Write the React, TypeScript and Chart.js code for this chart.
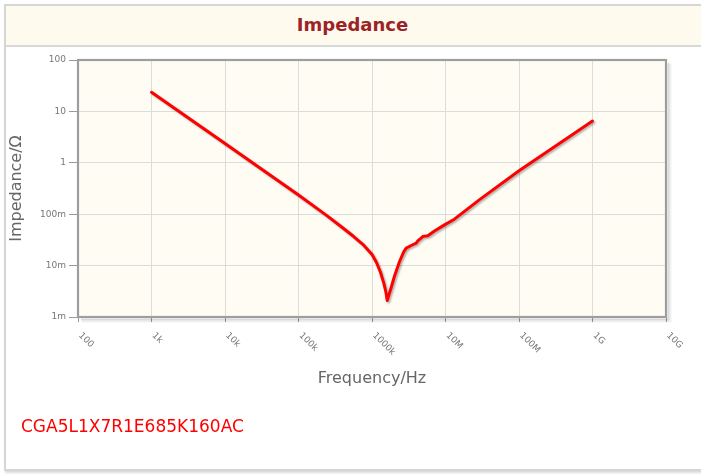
import React, { useEffect, useRef } from 'react';
import { Chart, registerables } from 'chart.js';

Chart.register(...registerables);

// ---- data ----
const freqHz = [
  1e3, 1e4, 1e5, 2.38e5, 3.6e5, 5.48e5, 7.5e5, 1.0e6, 1.15e6, 1.3e6, 1.45e6, 1.55e6,
  1.61e6, 1.7e6, 1.82e6, 2.02e6, 2.37e6, 2.7e6, 2.92e6, 3.41e6, 3.99e6, 4.2e6,
  4.91e6, 5.74e6, 7.08e6, 9.68e6, 1.32e7, 2.88e7, 1e8, 1e9,
];
const impedanceOhm = [
  23.5, 2.37, 0.237, 0.096, 0.061, 0.038, 0.026, 0.0165, 0.0115, 0.0075, 0.0045, 0.003,
  0.0021, 0.0027, 0.0037, 0.0062, 0.012, 0.0185, 0.0219, 0.0246, 0.0273, 0.0303,
  0.0368, 0.038, 0.047, 0.062, 0.08, 0.19, 0.7, 6.5,
];
const xTickValues = [1e2, 1e3, 1e4, 1e5, 1e6, 1e7, 1e8, 1e9, 1e10];
const xTickLabels = ['100', '1k', '10k', '100k', '1000k', '10M', '100M', '1G', '10G'];
const yTickValues = [1e-3, 1e-2, 1e-1, 1, 10, 100];
const yTickLabels = ['1m', '10m', '100m', '1', '10', '100'];

const chartTitle = 'Impedance';
const partNumber = 'CGA5L1X7R1E685K160AC';
const xTitle = 'Frequency/Hz';
const yTitle = 'Impedance/Ω';

const FONT = "'DejaVu Sans', sans-serif";

const decorPlugin = {
  id: 'decor',
  beforeDraw(chart: any) {
    const { ctx, chartArea: a } = chart;
    ctx.save();
    ctx.fillStyle = '#fffcf3';
    ctx.fillRect(a.left, a.top, a.right - a.left, a.bottom - a.top);
    ctx.restore();
  },
  beforeDatasetsDraw(chart: any) {
    const ctx = chart.ctx;
    ctx.save();
    ctx.shadowColor = 'rgba(0,0,0,0.3)';
    ctx.shadowOffsetX = 1.5;
    ctx.shadowOffsetY = 1.5;
    ctx.shadowBlur = 2;
  },
  afterDatasetsDraw(chart: any) {
    chart.ctx.restore();
  },
  afterDraw(chart: any) {
    const { ctx, chartArea: a } = chart;
    const w = a.right - a.left;
    const h = a.bottom - a.top;
    // outer soft shadow on right and bottom
    ctx.save();
    ctx.lineWidth = 2;
    ctx.strokeStyle = 'rgba(0,0,0,0.14)';
    ctx.beginPath();
    ctx.moveTo(a.right + 2.5, a.top + 3);
    ctx.lineTo(a.right + 2.5, a.bottom + 2.5);
    ctx.lineTo(a.left + 3, a.bottom + 2.5);
    ctx.stroke();
    ctx.strokeStyle = 'rgba(0,0,0,0.06)';
    ctx.beginPath();
    ctx.moveTo(a.right + 4.5, a.top + 4);
    ctx.lineTo(a.right + 4.5, a.bottom + 4.5);
    ctx.lineTo(a.left + 4, a.bottom + 4.5);
    ctx.stroke();
    // plot border
    ctx.strokeStyle = '#9e9e9e';
    ctx.lineWidth = 2.2;
    ctx.strokeRect(a.left, a.top, w, h);
    ctx.restore();
    // rotated x tick labels
    const xs = chart.scales.x;
    ctx.save();
    ctx.fillStyle = '#777';
    ctx.font = `9px ${FONT}`;
    ctx.textAlign = 'left';
    ctx.textBaseline = 'middle';
    xTickValues.forEach((v, i) => {
      const px = xs.getPixelForValue(v);
      ctx.save();
      ctx.translate(px + 2, a.bottom + 17);
      ctx.rotate(Math.PI / 4);
      ctx.fillText(xTickLabels[i], 0, 0);
      ctx.restore();
    });
    ctx.restore();
  },
};

function ImpedanceChart() {
  const ref = useRef<HTMLCanvasElement | null>(null);
  useEffect(() => {
    if (!ref.current) return;
    const chart = new Chart(ref.current, {
      type: 'line',
      data: {
        datasets: [
          {
            data: freqHz.map((f, i) => ({ x: f, y: impedanceOhm[i] })),
            borderColor: '#ff0000',
            borderWidth: 3,
            pointRadius: 0,
            tension: 0,
            borderJoinStyle: 'round',
            borderCapStyle: 'round',
            fill: false,
          },
        ],
      },
      options: {
        animation: false,
        responsive: false,
        devicePixelRatio: 1,
        layout: { padding: { left: 0, right: 35, top: 60, bottom: 84 } },
        plugins: { legend: { display: false }, tooltip: { enabled: false } },
        scales: {
          x: {
            type: 'logarithmic',
            min: 1e2,
            max: 1e10,
            afterBuildTicks: (s: any) => {
              s.ticks = xTickValues.map((v) => ({ value: v }));
            },
            afterFit: (s: any) => {
              s.height = 75;
            },
            ticks: { display: false },
            grid: { color: '#dcdcdc', tickColor: '#999', tickLength: 5, lineWidth: 1 },
            border: { display: false },
            title: {
              display: true,
              text: xTitle,
              color: '#666',
              font: { family: FONT, size: 16 },
              padding: { top: 4, bottom: 4 },
            },
          },
          y: {
            type: 'logarithmic',
            min: 1e-3,
            max: 1e2,
            afterBuildTicks: (s: any) => {
              s.ticks = yTickValues.map((v) => ({ value: v }));
            },
            afterFit: (s: any) => {
              s.width = 78;
            },
            ticks: {
              color: '#777',
              font: { family: FONT, size: 9 },
              padding: 3,
              callback: (_v: any, i: number) => yTickLabels[i],
            },
            grid: { color: '#dcdcdc', tickColor: '#999', tickLength: 9, lineWidth: 1 },
            border: { display: false },
            title: {
              display: true,
              text: yTitle,
              color: '#666',
              font: { family: FONT, size: 16 },
              padding: { top: 7, bottom: 4 },
            },
          },
        },
      },
      plugins: [decorPlugin],
    } as any);
    return () => chart.destroy();
  }, []);
  return (
    <canvas
      ref={ref}
      width={701}
      height={476}
      style={{ position: 'absolute', left: 0, top: 0, width: 701, height: 476 }}
    />
  );
}

export default function App() {
  return (
    <div style={{ position: 'absolute', left: 0, top: 0, width: 701, height: 476, overflow: 'hidden', background: '#fff' }}>
      <div
        style={{
          position: 'absolute',
          left: 4,
          top: 4,
          width: 700,
          height: 467,
          boxSizing: 'border-box',
          border: '2px solid #d6d6d6',
          boxShadow: '1px 2px 2px rgba(0,0,0,0.15)',
          background: '#fff',
        }}
      >
        <div
          style={{
            position: 'absolute',
            left: 0,
            top: 0,
            right: 0,
            height: 41,
            boxSizing: 'border-box',
            background: '#fffaee',
            borderBottom: '2px solid #d8d8d8',
          }}
        />
      </div>
      <div
        style={{
          position: 'absolute',
          left: 4,
          width: 697,
          top: 14,
          textAlign: 'center',
          fontFamily: FONT,
          fontWeight: 'bold',
          fontSize: 18,
          color: '#9b2226',
          lineHeight: 'normal',
        }}
      >
        {chartTitle}
      </div>
      <ImpedanceChart />
      <div
        style={{
          position: 'absolute',
          left: 21,
          top: 416,
          fontFamily: FONT,
          fontSize: 17,
          color: '#ff0000',
          lineHeight: 'normal',
        }}
      >
        {partNumber}
      </div>
    </div>
  );
}
